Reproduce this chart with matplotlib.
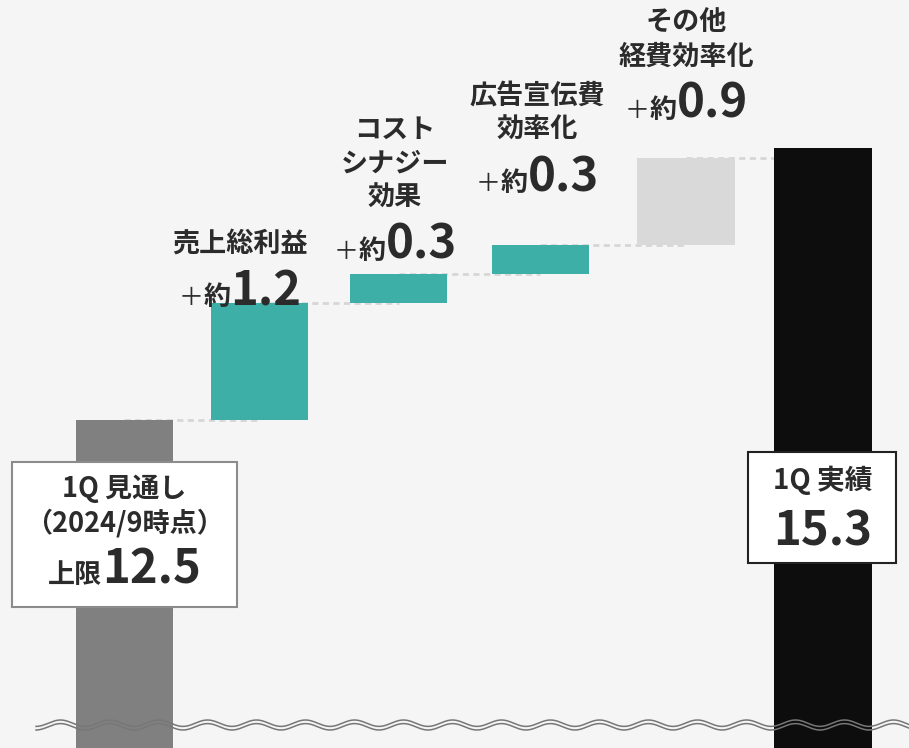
import matplotlib
matplotlib.use("Agg")
import matplotlib.pyplot as plt
from matplotlib.patches import Rectangle
from matplotlib.lines import Line2D
import numpy as np

plt.rcParams['font.family'] = ['Noto Sans CJK JP', 'DejaVu Sans']

# ---- data ----
start_value = 12.5
start_lines = ["1Q 見通し", "（2024/9時点）"]
start_prefix = "上限"
step_names = [["売上総利益"], ["コスト", "シナジー", "効果"],
              ["広告宣伝費", "効率化"], ["その他", "経費効率化"]]
step_values = [1.2, 0.3, 0.3, 0.9]
final_value = 15.3
final_name = "1Q 実績"

# ---- layout ----
bar_x = [0, 0.966, 1.962, 2.978, 4.02, 5.0]
bar_w = 0.7

# ---- style ----
BG = '#f5f5f5'
TXT = '#2b2b2b'
C_START = '#808080'
C_STEP = '#3eafa7'
C_OTHER = '#d9d9d9'
C_FINAL = '#0d0d0d'

W, H = 909, 748
fig = plt.figure(figsize=(W / 100, H / 100), dpi=100)
fig.patch.set_facecolor(BG)
ax = fig.add_axes([0, 0, 1, 1])
ax.set_facecolor(BG)
ax.axis('off')
ax.set_xlim(-0.891, 5.616)
ax.set_ylim(9.123, 16.824)

n = len(step_values)
cum = start_value + np.cumsum(step_values)
bottoms = np.concatenate([[start_value], cum[:-1]])

ax.bar(bar_x[0], start_value, width=bar_w, color=C_START, zorder=2)
ax.bar(bar_x[1:n + 1], step_values, bottom=bottoms, width=bar_w,
       color=[C_STEP] * (n - 1) + [C_OTHER], zorder=2)
ax.bar(bar_x[n + 1], final_value, width=bar_w, color=C_FINAL, zorder=2)

# dashed connectors between consecutive bars
levels = np.concatenate([[start_value], cum])
for i, lvl in enumerate(levels):
    ax.plot([bar_x[i], bar_x[i + 1]], [lvl, lvl], color='#d6d6d6', lw=2,
            linestyle=(0, (2.2, 1.6)), zorder=1)

renderer = fig.canvas.get_renderer()


def fy(py):
    return 1 - py / H


def centered_text(cx, py, s, size, weight='bold'):
    fig.text(cx / W, fy(py), s, fontsize=size, fontweight=weight,
             color=TXT, ha='center', va='center', zorder=5)


def composite(cx, baseline, pieces):
    texts = []
    for s, size, weight in pieces:
        t = fig.text(0, fy(baseline), s, fontsize=size, fontweight=weight,
                     color=TXT, ha='left', va='baseline', zorder=5)
        texts.append(t)
    widths = [t.get_window_extent(renderer).width for t in texts]
    x0 = cx - sum(widths) / 2
    for t, w in zip(texts, widths):
        t.set_x(x0 / W)
        x0 += w


# step labels: (center x, number baseline) in pixels
label_pos = [(240, 305), (395, 259), (537, 191), (686, 118)]
for names, val, (cx, base) in zip(step_names, step_values, label_pos):
    for k, name in enumerate(reversed(names)):
        centered_text(cx, base - 61 - 34 * k, name, 19.5)
    composite(cx, base, [("＋", 18, 'normal'), ("約", 19.5, 'bold'),
                         (f"{val:.1f}", 34, 'bold')])

# start box
fig.add_artist(Rectangle((12 / W, fy(607)), 225 / W, 145 / H,
                         transform=fig.transFigure, facecolor='white',
                         edgecolor='#8c8c8c', lw=1.5, zorder=4))
centered_text(124.5, 489, start_lines[0], 19.5)
centered_text(124.5, 523, start_lines[1], 19.5)
composite(124.5, 583, [(start_prefix, 19.5, 'bold'),
                       (f"{start_value:.1f}", 34, 'bold')])

# final box
fig.add_artist(Rectangle((748 / W, fy(563)), 148 / W, 111 / H,
                         transform=fig.transFigure, facecolor='white',
                         edgecolor='#222222', lw=1.5, zorder=4))
centered_text(823, 480, final_name, 20)
composite(823, 545, [(f"{final_value:.1f}", 34, 'bold')])

# axis break mark (double wavy line)
wx = np.linspace(36, W, 3000)
for off in (-1.8, 1.8):
    wy = 725 + off + 3.2 * np.sin(2 * np.pi * (wx - 36) / 49 + np.pi / 2)
    fig.add_artist(Line2D(wx / W, fy(wy), transform=fig.transFigure,
                          color='#777777', lw=1.1, zorder=4))

fig.savefig('out.png', dpi=100, facecolor=BG)
